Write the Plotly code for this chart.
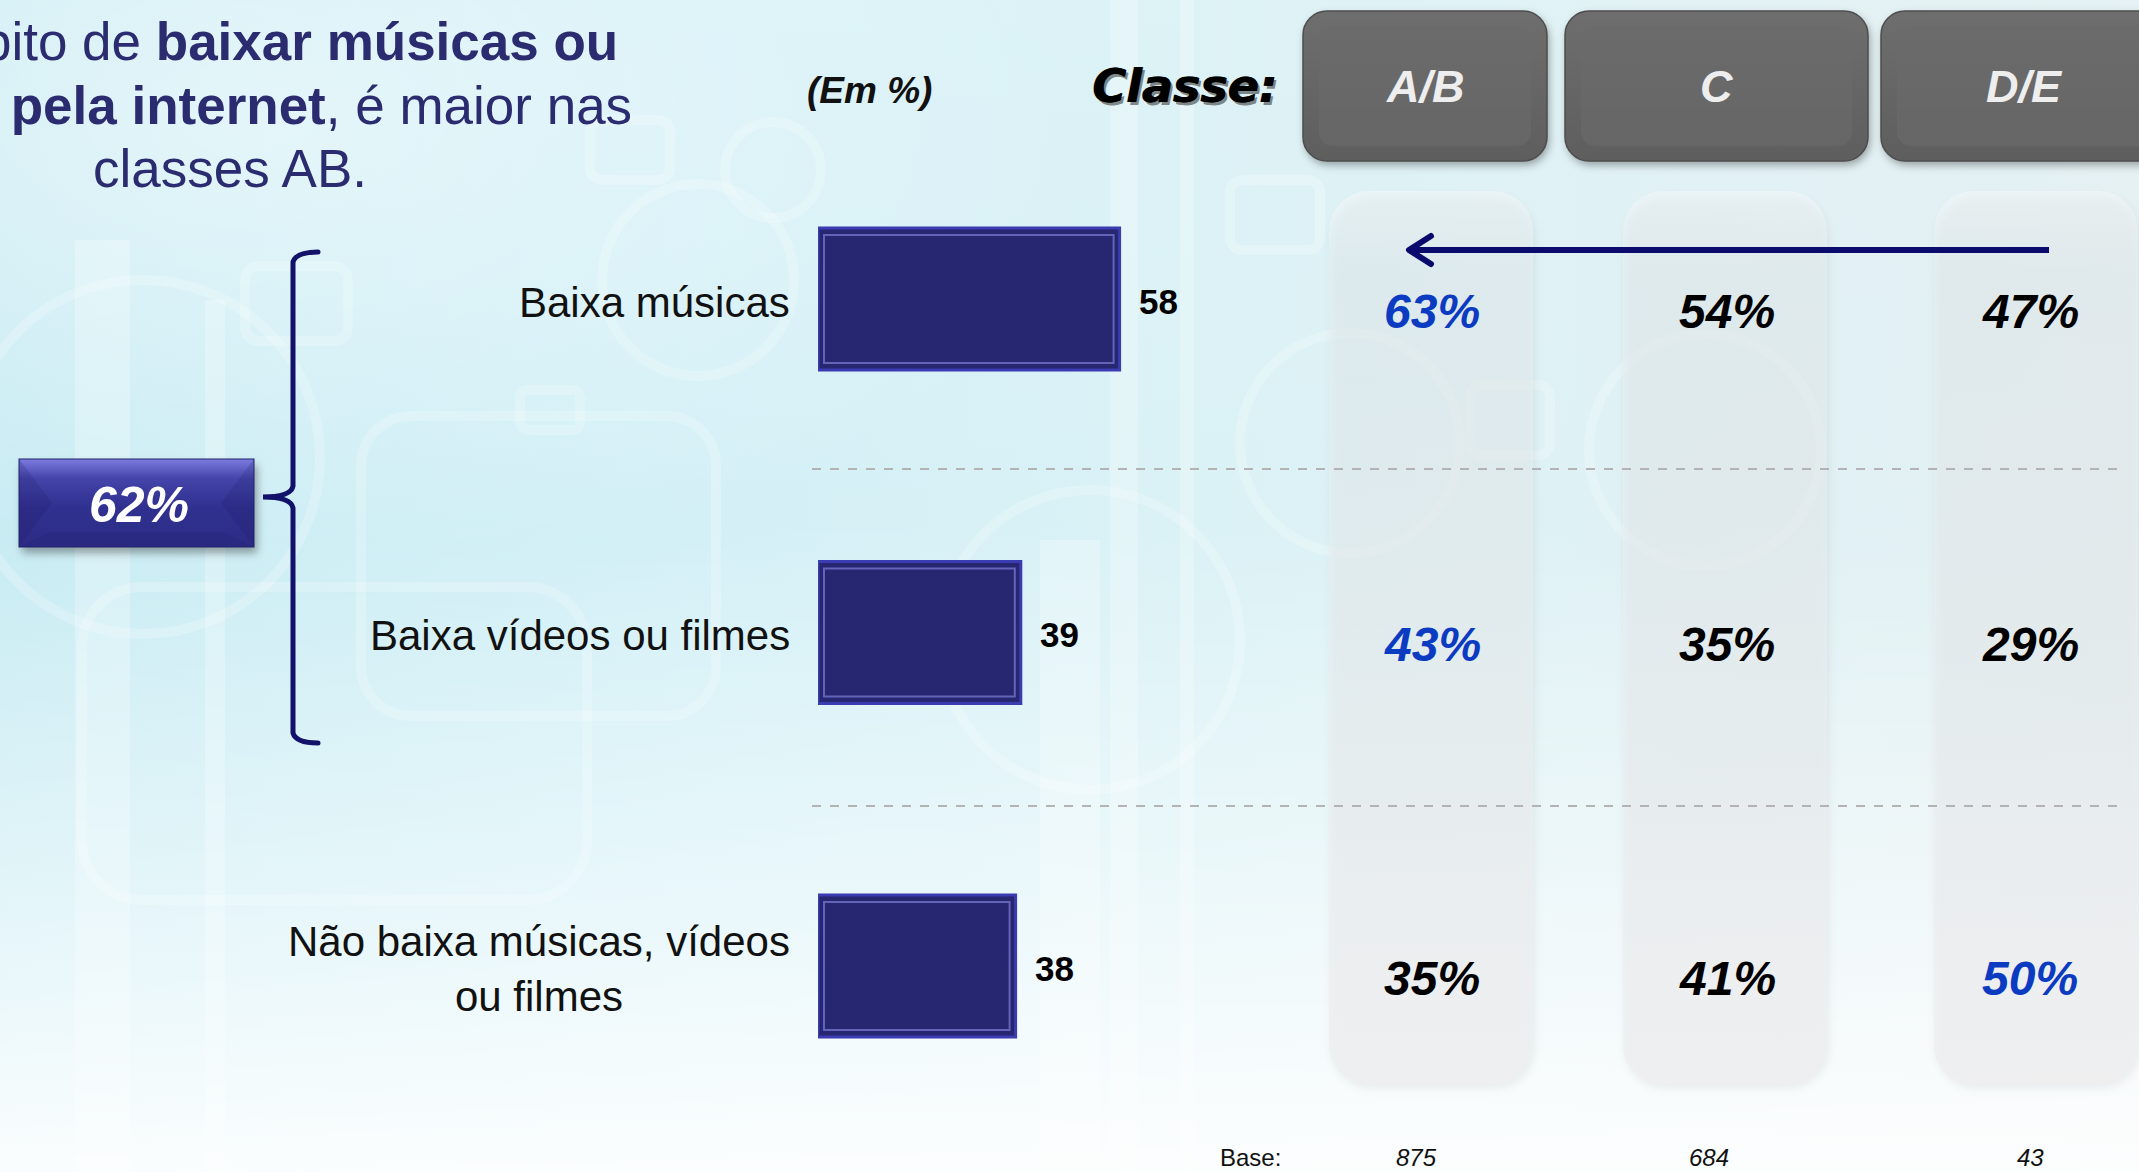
import base64
import plotly.graph_objects as go

W, H = 2139, 1172

# ---- data -----------------------------------------------------------------
categorias = ["Baixa músicas", "Baixa vídeos ou filmes", "Não baixa músicas, vídeos<br>ou filmes"]
total = [58, 39, 38]
destaque_total = "62%"
classes = ["A/B", "C", "D/E"]
pct_ab = [63, 43, 35]
pct_c = [54, 35, 41]
pct_de = [47, 29, 50]
bases = [875, 684, 43]
titulo = ["O hábito de <b>baixar músicas ou</b>",
          "<b>vídeos pela internet</b>, é maior nas",
          "classes AB."]

por_classe = [pct_ab, pct_c, pct_de]


def px(x):
    return x / W


def py(y):
    return 1 - y / H


FONT = "Liberation Sans, Arial, sans-serif"
NAVY = "#2b2b70"
BLUE = "#0b3bc1"

# ---- background artwork (gradient, panels, buttons, bracket, arrow) --------
col_x = [1431, 1725, 2036]
btn = [(1303, 1547), (1565, 1868), (1881, 2170)]

svg = [f'<svg xmlns="http://www.w3.org/2000/svg" width="{W}" height="{H}" viewBox="0 0 {W} {H}">',
       '<defs>',
       '<linearGradient id="bgH" x1="0" y1="0" x2="1" y2="0">'
       '<stop offset="0" stop-color="#c4eaf2"/><stop offset="0.3" stop-color="#d0eff6"/>'
       '<stop offset="0.6" stop-color="#daf1f5"/><stop offset="1" stop-color="#e2eff2"/></linearGradient>',
       '<linearGradient id="bgV" x1="0" y1="0" x2="0" y2="1">'
       '<stop offset="0" stop-color="#fff" stop-opacity="0.12"/><stop offset="0.45" stop-color="#fff" stop-opacity="0.05"/>'
       '<stop offset="0.75" stop-color="#fff" stop-opacity="0.5"/><stop offset="1" stop-color="#fff" stop-opacity="0.92"/></linearGradient>',
       '<radialGradient id="haze" cx="0.12" cy="0.1" r="0.4">'
       '<stop offset="0" stop-color="#fff" stop-opacity="0.45"/><stop offset="1" stop-color="#fff" stop-opacity="0"/></radialGradient>',
       '<linearGradient id="panel" x1="0" y1="0" x2="0" y2="1">'
       '<stop offset="0" stop-color="#f4f8f9" stop-opacity="0.55"/><stop offset="0.09" stop-color="#e9f0f2" stop-opacity="0.5"/>'
       '<stop offset="0.6" stop-color="#ebeff1" stop-opacity="0.6"/><stop offset="1" stop-color="#efeff0" stop-opacity="0.9"/></linearGradient>',
       '<linearGradient id="btn" x1="0" y1="0" x2="0" y2="1">'
       '<stop offset="0" stop-color="#6e6e6e"/><stop offset="0.5" stop-color="#666"/><stop offset="1" stop-color="#5e5e5e"/></linearGradient>',
       '<linearGradient id="box" x1="0" y1="0" x2="0" y2="1">'
       '<stop offset="0" stop-color="#7b7be0"/><stop offset="0.22" stop-color="#4444aa"/>'
       '<stop offset="0.55" stop-color="#303090"/><stop offset="1" stop-color="#2c2c86"/></linearGradient>',
       '<filter id="sh" x="-20%" y="-20%" width="140%" height="140%"><feGaussianBlur stdDeviation="4"/></filter>',
       '</defs>',
       f'<rect width="{W}" height="{H}" fill="url(#bgH)"/>',
       f'<rect width="{W}" height="{H}" fill="url(#haze)"/>']

# faint decorative outlines
deco = [
    '<circle cx="698" cy="280" r="96"/>', '<circle cx="773" cy="170" r="48"/>',
    '<circle cx="143" cy="457" r="177"/>', '<circle cx="1350" cy="443" r="110"/>',
    '<circle cx="1705" cy="450" r="116"/>', '<circle cx="1090" cy="640" r="150"/>',
    '<rect x="361" y="416" width="355" height="300" rx="50"/>',
    '<rect x="82" y="587" width="505" height="313" rx="60"/>',
    '<rect x="245" y="266" width="103" height="75" rx="14"/>',
    '<rect x="590" y="120" width="80" height="60" rx="12"/>',
    '<rect x="1230" y="180" width="90" height="70" rx="12"/>',
    '<rect x="1470" y="385" width="80" height="70" rx="12"/>',
    '<rect x="520" y="390" width="60" height="40" rx="8"/>',
]
svg.append('<g fill="none" stroke="#fff" stroke-opacity="0.22" stroke-width="10">' + "".join(deco) + '</g>')
svg.append('<g fill="#fff" fill-opacity="0.25">'
           '<rect x="75" y="240" width="55" height="932"/><rect x="205" y="300" width="20" height="872"/>'
           '<rect x="1110" y="0" width="28" height="1172"/><rect x="1180" y="0" width="14" height="1172"/>'
           '<rect x="1040" y="540" width="60" height="632"/></g>')
svg.append(f'<rect width="{W}" height="{H}" fill="url(#bgV)"/>')

# class panels
for cx in col_x:
    x0 = cx - 102
    svg.append(f'<rect x="{x0 + 2}" y="197" width="204" height="892" rx="40" fill="#000" fill-opacity="0.06" filter="url(#sh)"/>')
    svg.append(f'<rect x="{x0}" y="191" width="204" height="894" rx="40" fill="url(#panel)"/>')

# header buttons
for x0, x1 in btn:
    w = x1 - x0
    svg.append(f'<rect x="{x0 + 2}" y="15" width="{w}" height="150" rx="24" fill="#000" fill-opacity="0.35" filter="url(#sh)"/>')
    svg.append(f'<rect x="{x0}" y="11" width="{w}" height="150" rx="24" fill="url(#btn)" stroke="#4e4e4e" stroke-width="1.5"/>')
    svg.append(f'<rect x="{x0 + 16}" y="26" width="{w - 32}" height="120" rx="14" fill="#6a6a6a" fill-opacity="0.6"/>')

# 62% box with bevel
svg.append('<rect x="22" y="465" width="235" height="88" fill="#000" fill-opacity="0.35" filter="url(#sh)"/>')
svg.append('<rect x="19" y="459" width="235" height="88" fill="url(#box)" stroke="#25256f" stroke-width="1"/>')
svg.append('<polygon points="19,459 52,503 19,547" fill="#1c1c60" fill-opacity="0.18"/>')
svg.append('<polygon points="254,459 221,503 254,547" fill="#1c1c60" fill-opacity="0.18"/>')
svg.append('<polygon points="19,547 52,532 221,532 254,547" fill="#1c1c60" fill-opacity="0.12"/>')

# brace
svg.append('<path d="M318,252 Q296,252 293,262 L293,486 Q291,497 263,497 Q291,497 293,508 L293,733 Q296,743 318,743" '
           'fill="none" stroke="#12126b" stroke-width="5" stroke-linecap="round"/>')

# arrow pointing to the A/B class
svg.append('<path d="M2049,250 L1410,250" stroke="#0b0b6e" stroke-width="6"/>')
svg.append('<path d="M1431,236 L1409,250 L1431,264" fill="none" stroke="#0b0b6e" stroke-width="6" '
           'stroke-linecap="round" stroke-linejoin="round"/>')
svg.append('</svg>')

bg_src = "data:image/svg+xml;base64," + base64.b64encode("".join(svg).encode("utf-8")).decode("ascii")

# ---- figure ------------------------------------------------------------------
SCALE = 5.2          # pixels per percentage point
X0 = 818             # bar origin in pixels
XMAX = 80
SPACING = 333.5      # pixels between row centres
TOP = 299 - SPACING / 2
BOTTOM = TOP + SPACING * 3
BAR_W = 142 / SPACING

rows = list(range(len(categorias)))

fig = go.Figure()
fig.add_trace(go.Bar(
    x=total, y=rows, orientation="h", width=BAR_W,
    marker=dict(color="#272771", line=dict(color="#3b3bb2", width=3)),
    hoverinfo="skip", showlegend=False,
))

shapes = []
# inner bevel line of each bar
ix = 6 / SCALE
iy = 7 / SPACING
for i, v in zip(rows, total):
    shapes.append(dict(type="rect", xref="x", yref="y", x0=ix, x1=v - ix,
                       y0=i - BAR_W / 2 + iy, y1=i + BAR_W / 2 - iy,
                       line=dict(color="rgba(125,125,215,0.7)", width=2), fillcolor="rgba(0,0,0,0)"))
# row separators
for yy in (469, 806):
    shapes.append(dict(type="line", xref="paper", yref="paper", x0=px(812), x1=px(2121), y0=py(yy), y1=py(yy),
                       line=dict(color="#b3b3b3", width=2, dash="dash")))


def note(text, x, y, size, color, family=FONT, xanchor="center", **kw):
    d = dict(text=text, x=x, y=y, xanchor=xanchor, yanchor="middle", showarrow=False,
             font=dict(family=family, size=size, color=color))
    d.setdefault("xref", "paper")
    d.setdefault("yref", "paper")
    d.update(kw)
    return d


ann = []
# title (centred block, partly running off the left edge)
title_cx = [242, 230, 230]
for k, line in enumerate(titulo):
    ann.append(note(line, px(title_cx[k]), py(41 + 64 * k), 53, NAVY))
# headers
ann.append(note("<b><i>(Em %)</i></b>", px(869), py(91), 37, "#111"))
for dx, dy, col in ((3.5, -3.5, "rgba(60,60,60,0.6)"), (1.5, 0, "#000"), (0, 0, "#000")):
    ann.append(note("<b><i>Classe:</i></b>", px(1184), py(86), 46, col,
                    family="DejaVu Sans, sans-serif", xshift=dx, yshift=dy))
for name, (x0, x1) in zip(classes, btn):
    cx = (x0 + min(x1, 2169)) / 2
    ann.append(note(f"<b><i>{name}</i></b>", px(cx), py(87), 45, "#eeeeee"))
# total box
ann.append(note(f"<b><i>{destaque_total}</i></b>", px(139), py(505), 50, "#ffffff"))
# category labels and bar values
for i, (cat, v) in enumerate(zip(categorias, total)):
    ann.append(note(cat, px(792), i, 42, "#111", xanchor="right", yref="y", yshift=-3, align="center"))
    ann.append(note(f"<b>{v}</b>", v, i, 35, "#000", xanchor="left", xref="x", yref="y",
                    xshift=17, yshift=-2))
# class percentages, row maximum highlighted in blue
pct_x = [1432, 1727, 2030]
for i in rows:
    row_vals = [c[i] for c in por_classe]
    for j, c in enumerate(por_classe):
        col = BLUE if c[i] == max(row_vals) else "#000"
        ann.append(note(f"<b><i>{c[i]}%</i></b>", px(pct_x[j]), i, 48, col, yref="y", yshift=-12))
# sample bases
ann.append(note("Base:", px(1218), py(1157), 24, "#111", xanchor="left"))
base_x = [1416, 1709, 2030]
for bx, b in zip(base_x, bases):
    ann.append(note(f"<i>{b}</i>", px(bx), py(1157), 24, "#111"))

fig.update_layout(
    width=W, height=H, margin=dict(l=0, r=0, t=0, b=0),
    paper_bgcolor="#ffffff", plot_bgcolor="rgba(0,0,0,0)",
    xaxis=dict(domain=[px(X0), px(X0 + SCALE * XMAX)], range=[0, XMAX], visible=False, fixedrange=True),
    yaxis=dict(domain=[py(BOTTOM), py(TOP)], range=[len(rows) - 0.5, -0.5], visible=False, fixedrange=True),
    shapes=shapes, annotations=ann,
    images=[dict(source=bg_src, xref="paper", yref="paper", x=0, y=1, sizex=1, sizey=1,
                 xanchor="left", yanchor="top", sizing="stretch", layer="below")],
    showlegend=False,
)

fig.write_html("out.html")
